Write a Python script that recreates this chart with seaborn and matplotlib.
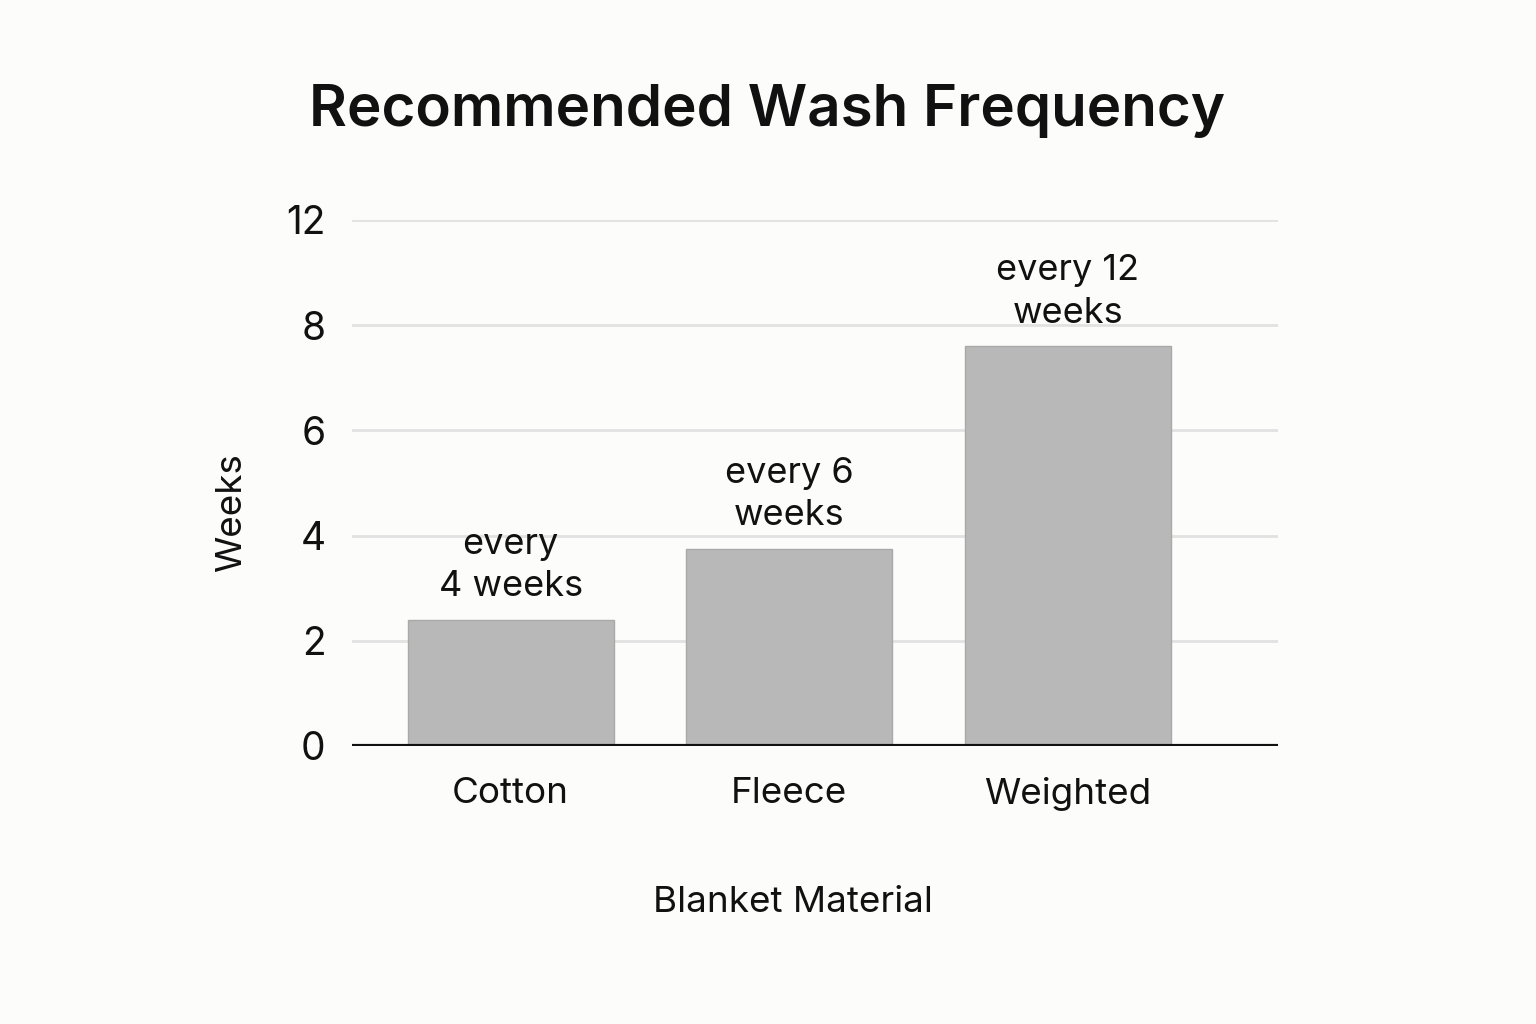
import matplotlib
matplotlib.use("Agg")
import matplotlib.pyplot as plt
import seaborn as sns
import pandas as pd

# values (bar heights on the drawn axis scale)
materials = ["Cotton", "Fleece", "Weighted"]
heights = [2.4, 3.75, 7.6]
bar_labels = ["every\n4 weeks", "every 6\nweeks", "every 12\nweeks"]
tick_pos = [0, 2, 4, 6, 8, 10]
tick_labels = ["0", "2", "4", "6", "8", "12"]

df = pd.DataFrame({"material": materials, "weeks": heights})

sns.set_theme(style="white")
plt.rcParams["font.family"] = ["Inter", "DejaVu Sans"]

bg = "#fcfcfb"
ink = "#111111"
fig = plt.figure(figsize=(15.36, 10.24), dpi=100, facecolor=bg)
ax = fig.add_axes([352 / 1536, 1 - 746 / 1024, (1278 - 352) / 1536, (746 - 220) / 1024])
ax.set_facecolor(bg)

sns.barplot(data=df, x="material", y="weeks", color="#b8b8b8", width=0.74,
            edgecolor="#a9a9a9", linewidth=1, saturation=1, ax=ax, zorder=3)

for i, (h, lab) in enumerate(zip(heights, bar_labels)):
    ax.annotate(lab, (i, h), xytext=(0, 12), textcoords="offset points",
                ha="center", va="bottom", fontsize=26, color=ink,
                linespacing=1.35, zorder=4)

ax.set_ylim(0, 10)
ax.set_xlim(-0.57, 2.755)
ax.set_yticks(tick_pos)
ax.set_yticklabels(tick_labels)
ax.yaxis.grid(True, color="#e2e2e2", linewidth=2)
ax.set_axisbelow(True)
ax.axhline(0, color=ink, linewidth=3, zorder=5)
for s in ax.spines.values():
    s.set_visible(False)
ax.tick_params(axis="y", labelsize=28, length=0, pad=19, labelcolor=ink)
ax.tick_params(axis="x", labelsize=26.5, length=0, pad=22, labelcolor=ink)

ax.set_xlabel("")
ax.set_ylabel("")
fig.text(793 / 1536, 1 - 903 / 1024, "Blanket Material", ha="center", va="center",
         fontsize=26.5, color=ink)
fig.text(232 / 1536, 1 - 513 / 1024, "Weeks", ha="center", va="center",
         rotation=90, fontsize=26.5, color=ink)
fig.text(767 / 1536, 1 - 111 / 1024, "Recommended Wash Frequency", ha="center",
         va="center", fontsize=42, fontweight="semibold", color=ink)

fig.savefig("out.png", dpi=100, facecolor=bg)
